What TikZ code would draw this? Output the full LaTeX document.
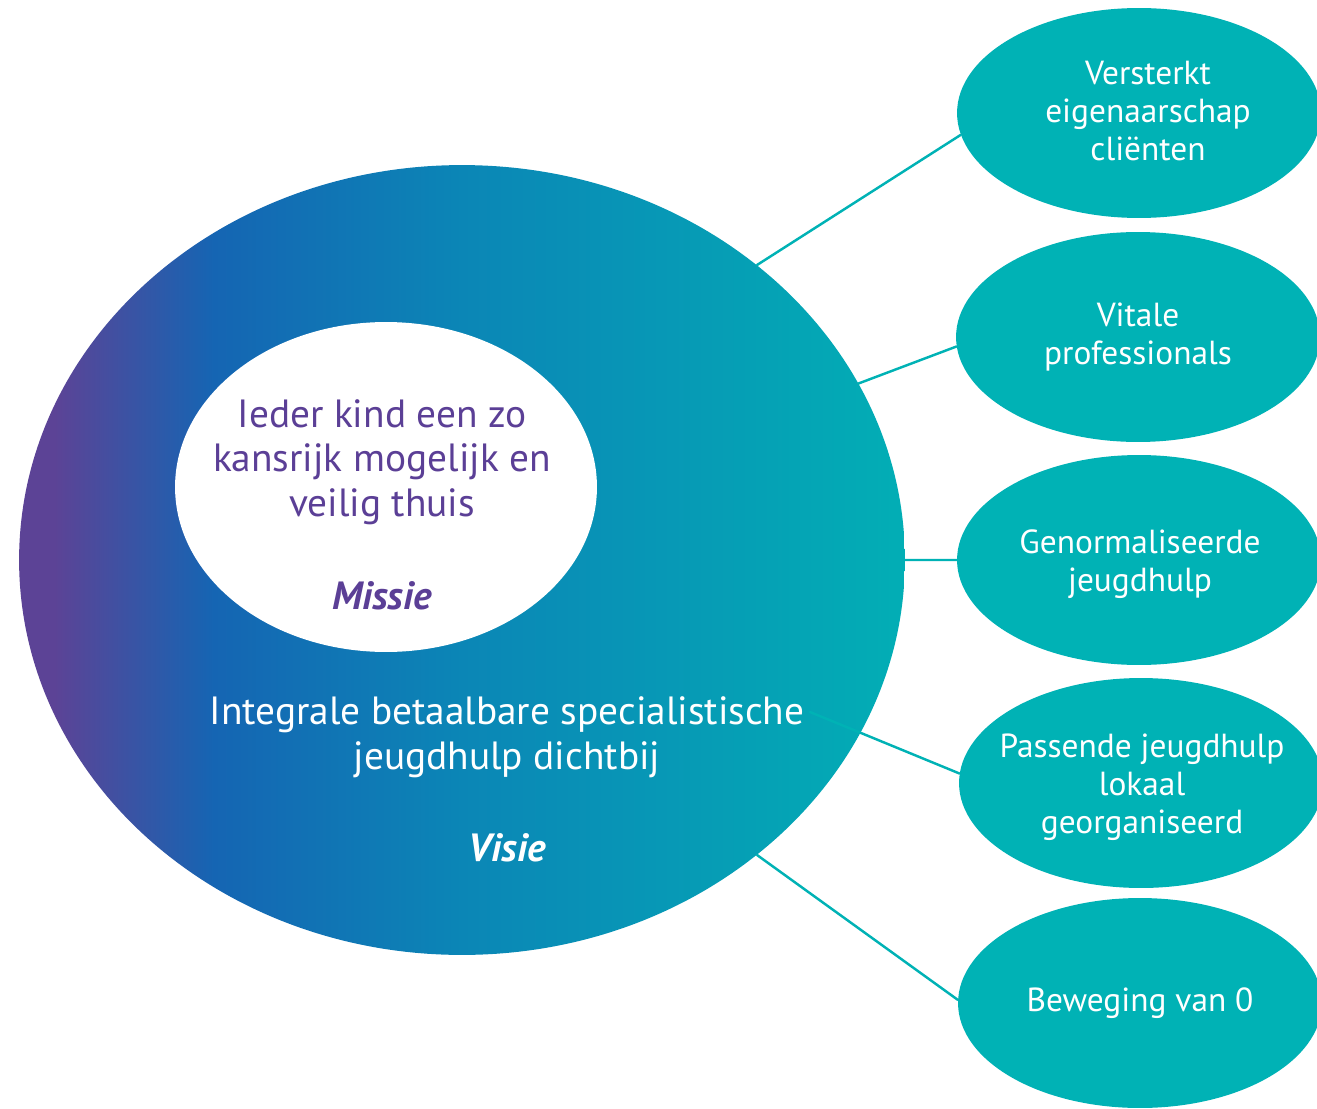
\documentclass[tikz,border=0pt]{standalone}
\usepackage{fontspec}
\setmainfont{PT Sans}
\usetikzlibrary{shapes.geometric}
\definecolor{tealc}{HTML}{00B2B5}
\definecolor{purc}{HTML}{5B3F96}
\definecolor{gA}{HTML}{5C4396}
\definecolor{gB}{HTML}{1565B3}
\definecolor{gC}{HTML}{0B86B6}
\definecolor{gD}{HTML}{02AEB5}
\pgfdeclarehorizontalshading{visgrad}{100bp}{color(0bp)=(gA); color(27bp)=(gA); color(36bp)=(gB); color(50bp)=(gC); color(75bp)=(gD); color(100bp)=(gD)}
\begin{document}
\begin{tikzpicture}[x=0.02cm,y=-0.02cm,line join=round,line cap=round,
    visel/.style={ellipse,inner sep=0pt,minimum width=17.72cm,minimum height=15.8cm,shading=visgrad},
    misel/.style={ellipse,inner sep=0pt,minimum width=8.44cm,minimum height=6.6cm,fill=white},
    doel/.style={ellipse,inner sep=0pt,minimum width=7.28cm,minimum height=4.2cm,fill=tealc},
    doeltxt/.style={text=white,align=center,font=\fontsize{19}{21.6}\selectfont},
    bigtxt/.style={align=center,font=\fontsize{22.4}{25.4}\selectfont},
    link/.style={draw=tealc,line width=1.4pt}]
    \useasboundingbox (0,0) rectangle (1317,1108);
    % visie en missie
    \node[visel] (vis) at (462,560) {};
    \node[misel] (mis) at (386,487) {};
    \node[bigtxt,text=purc] (mistxt) at (382,462) {Ieder kind een zo\\kansrijk mogelijk en\\veilig thuis};
    \node[bigtxt,text=purc,font=\fontsize{22.4}{25.4}\selectfont\bfseries\itshape] (mislbl) at (382,596) {Missie};
    \node[bigtxt,text=white] (vistxt) at (507,737) {Integrale betaalbare specialistische\\jeugdhulp dichtbij};
    \node[bigtxt,text=white,font=\fontsize{22.4}{25.4}\selectfont\bfseries\itshape] (vislbl) at (507,848) {Visie};
    % doelen
    \node[doel] (e1) at (1139,113) {};
    \node[doel] (e2) at (1138,337) {};
    \node[doel] (e3) at (1139,560) {};
    \node[doel] (e4) at (1141,783) {};
    \node[doel] (e5) at (1140,1003) {};
    \node[doeltxt] (t1) at (1148,111) {Versterkt\\eigenaarschap\\cliënten};
    \node[doeltxt] (t2) at (1138,337) {Vitale\\professionals};
    \node[doeltxt] (t3) at (1140,564) {Genormaliseerde\\jeugdhulp};
    \node[doeltxt] (t4) at (1142,787) {Passende jeugdhulp\\lokaal\\georganiseerd};
    \node[doeltxt] (t5) at (1140,1003) {Beweging van 0};
    \coordinate (v4) at (810,712);
    \draw[link] (vis.45)--(e1.187) (vis.24)--(e2.183) (vis.east)--(e3.west)
        (v4)--(e4.177) (vis.-45)--(e5.179);
\end{tikzpicture}
\end{document}
